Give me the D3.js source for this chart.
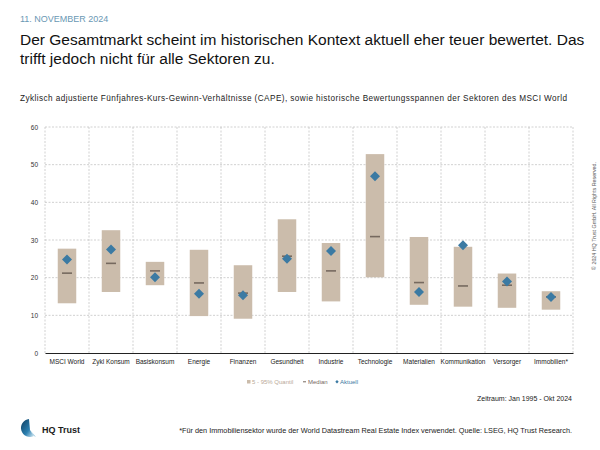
<!DOCTYPE html>
<html><head><meta charset="utf-8">
<script src="https://cdn.jsdelivr.net/npm/d3@7"></script>
<style>body{margin:0;background:#fff}svg{font-family:"Liberation Sans",Arial,sans-serif}</style>
</head><body><svg id="c" width="600" height="450"></svg>
<script>
const categories = ["MSCI World","Zykl Konsum","Basiskonsum","Energie","Finanzen","Gesundheit","Industrie","Technologie","Materialien","Kommunikation","Versorger","Immobilien*"];
const q05 = [13.2,16.2,18.0,9.8,9.1,16.2,13.7,20.1,12.8,12.3,12.0,11.5];
const q95 = [27.7,32.6,24.2,27.4,23.3,35.5,29.2,52.8,30.8,28.2,21.1,16.4];
const median = [21.2,23.8,21.8,18.6,15.9,25.7,21.8,30.9,18.7,17.8,18.0,14.9];
const aktuell = [24.8,27.5,20.1,15.7,15.3,25.0,27.1,46.9,16.2,28.6,19.0,14.9];
const yTicks = [0,10,20,30,40,50,60];

const svg = d3.select("#c");
const L = 45, R = 573, T = 127, B = 353;
const x = d3.scaleBand().domain(categories).range([L,R]).padding(0);
const y = d3.scaleLinear().domain([0,60]).range([B,T]);

// header
svg.append("text").attr("x",20).attr("y",22).attr("font-size",9).attr("fill","#6a98b4").text("11. NOVEMBER 2024");
svg.append("text").attr("x",20).attr("y",45).attr("font-size",15.5).attr("fill","#111").text("Der Gesamtmarkt scheint im historischen Kontext aktuell eher teuer bewertet. Das");
svg.append("text").attr("x",20).attr("y",64).attr("font-size",15.5).attr("fill","#111").text("trifft jedoch nicht für alle Sektoren zu.");
svg.append("text").attr("x",20).attr("y",101).attr("font-size",8.2).attr("fill","#222")
  .attr("textLength",547).attr("lengthAdjust","spacing")
  .text("Zyklisch adjustierte Fünfjahres-Kurs-Gewinn-Verhältnisse (CAPE), sowie historische Bewertungsspannen der Sektoren des MSCI World");

// grid
const g = svg.append("g");
g.selectAll(".hg").data(yTicks.filter(d=>d>0)).join("line")
  .attr("x1",L).attr("x2",R).attr("y1",d=>y(d)).attr("y2",d=>y(d))
  .attr("stroke","#bdbdbd").attr("stroke-width",0.7).attr("stroke-dasharray","2,1.5");
const vb = categories.map(c=>x(c)).concat([R]);
g.selectAll(".vg").data(vb).join("line")
  .attr("x1",d=>d).attr("x2",d=>d).attr("y1",T).attr("y2",B)
  .attr("stroke","#bdbdbd").attr("stroke-width",0.7).attr("stroke-dasharray","2,1.5");

// y axis labels
const ya = svg.append("g").attr("transform",`translate(${L},0)`)
  .call(d3.axisLeft(y).tickValues(yTicks).tickSize(0).tickPadding(7));
ya.select(".domain").remove();
ya.selectAll("text").attr("font-size",6.5).attr("fill","#333").attr("font-family","Liberation Sans, Arial, sans-serif");

// boxes
const bw = 18.5;
svg.selectAll(".box").data(categories).join("rect")
  .attr("x",(c)=>x(c)+x.bandwidth()/2-bw/2).attr("width",bw)
  .attr("y",(c,i)=>y(q95[i])).attr("height",(c,i)=>y(q05[i])-y(q95[i]))
  .attr("fill","#cbbcab");
// median
const mw = 10;
svg.selectAll(".med").data(categories).join("line")
  .attr("x1",c=>x(c)+x.bandwidth()/2-mw/2).attr("x2",c=>x(c)+x.bandwidth()/2+mw/2)
  .attr("y1",(c,i)=>y(median[i])).attr("y2",(c,i)=>y(median[i]))
  .attr("stroke","#76695f").attr("stroke-width",1.6);
// diamonds
const ds = 5;
svg.selectAll(".dia").data(categories).join("path")
  .attr("d",`M0,${-ds}L${ds},0L0,${ds}L${-ds},0Z`)
  .attr("transform",(c,i)=>`translate(${x(c)+x.bandwidth()/2},${y(aktuell[i])})`)
  .attr("fill","#3b7aa3");

// x axis
const xa = svg.append("g").attr("transform",`translate(0,${B})`)
  .call(d3.axisBottom(x).tickSize(0).tickPadding(6));
xa.select(".domain").attr("stroke","#222").attr("stroke-width",1.2);
xa.selectAll("text").attr("font-size",6.5).attr("fill","#222").attr("font-family","Liberation Sans, Arial, sans-serif");

// legend
const lg = svg.append("g").attr("font-size",6).attr("transform","translate(247,384)");
lg.append("rect").attr("x",0).attr("y",-4).attr("width",3.5).attr("height",3.5).attr("fill","#cbbcab");
lg.append("text").attr("x",5).attr("y",0).attr("fill","#b9a998").text("5 - 95% Quantil");
lg.append("line").attr("x1",56).attr("x2",59).attr("y1",-2.2).attr("y2",-2.2).attr("stroke","#76695f").attr("stroke-width",1);
lg.append("text").attr("x",61).attr("y",0).attr("fill","#76695f").text("Median");
lg.append("path").attr("d","M0,-1.7L1.7,0L0,1.7L-1.7,0Z").attr("transform","translate(90,-2.2)").attr("fill","#3b7aa3");
lg.append("text").attr("x",93).attr("y",0).attr("fill","#3b7aa3").text("Aktuell");

svg.append("text").attr("x",572).attr("y",401).attr("text-anchor","end").attr("font-size",7).attr("fill","#222").text("Zeitraum: Jan 1995 - Okt 2024");
svg.append("text").attr("x",572).attr("y",433).attr("text-anchor","end").attr("font-size",7.3).attr("fill","#222").text("*Für den Immobiliensektor wurde der World Datastream Real Estate Index verwendet. Quelle: LSEG, HQ Trust Research.");

// logo
const defs = svg.append("defs");
const gr = defs.append("linearGradient").attr("id","lg1").attr("x1","0").attr("y1","0").attr("x2","1").attr("y2","1");
gr.append("stop").attr("offset","0").attr("stop-color","#0f3d5e");
gr.append("stop").attr("offset","0.6").attr("stop-color","#2b7fb0");
gr.append("stop").attr("offset","1").attr("stop-color","#d9ecf5");
svg.append("path").attr("d","M29,419 A9,9 0 1,0 34,436 L30,430 Z").attr("fill","url(#lg1)");
svg.append("path").attr("d","M30,430 L34,436 L36,437 Z").attr("fill","#9fcbe0");
svg.append("text").attr("x",42).attr("y",433).attr("font-size",9).attr("font-weight","bold").attr("fill","#1b1b1b").text("HQ Trust");

// copyright
svg.append("text").attr("transform","translate(596,270) rotate(-90)").attr("font-size",4.6).attr("fill","#555")
  .attr("textLength",108).attr("lengthAdjust","spacingAndGlyphs").text("© 2024 HQ Trust GmbH. All Rights Reserved.");
</script></body></html>
